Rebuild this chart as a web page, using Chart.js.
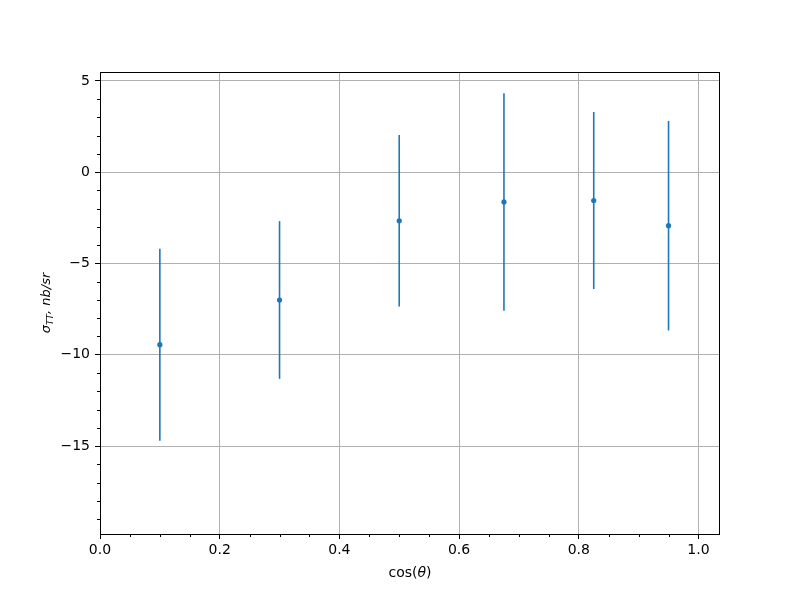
<!DOCTYPE html>
<html><head><meta charset="utf-8">
<script src="https://cdn.jsdelivr.net/npm/chart.js@4"></script>
<style>html,body{margin:0;padding:0;background:#fff}</style>
</head><body>
<canvas id="c" width="800" height="600" style="width:800px;height:600px;display:block"></canvas>
<script>
// ---- data ----
const cosTheta = [0.1, 0.3, 0.5, 0.675, 0.825, 0.95];
const sigma    = [-9.45, -7.0, -2.66, -1.63, -1.55, -2.93];
const sigmaErr = [5.26, 4.32, 4.70, 5.96, 4.85, 5.74];
const xTicks = [0, 0.2, 0.4, 0.6, 0.8, 1.0];
const yTicks = [5, 0, -5, -10, -15];
const xMinor = [0.05,0.1,0.15,0.25,0.3,0.35,0.45,0.5,0.55,0.65,0.7,0.75,0.85,0.9,0.95];
const yMinor = [4,3,2,1,-1,-2,-3,-4,-6,-7,-8,-9,-11,-12,-13,-14,-16,-17,-18,-19];
const xRange = [0, 1.036];
const yRange = [-19.82, 5.49];

const BLUE = '#1f77b4';
const FONT = '"DejaVu Sans", sans-serif';

const extras = {
  id: 'extras',
  beforeDatasetsDraw(chart) {
    const {ctx, scales: {x, y}} = chart;
    ctx.save();
    ctx.strokeStyle = BLUE;
    ctx.lineWidth = 1.6;
    for (let i = 0; i < cosTheta.length; i++) {
      const px = x.getPixelForValue(cosTheta[i]);
      ctx.beginPath();
      ctx.moveTo(px, y.getPixelForValue(sigma[i] + sigmaErr[i]));
      ctx.lineTo(px, y.getPixelForValue(sigma[i] - sigmaErr[i]));
      ctx.stroke();
    }
    ctx.restore();
  },
  afterDraw(chart) {
    const {ctx, chartArea: a, scales: {x, y}} = chart;
    ctx.save();
    // spines
    ctx.strokeStyle = '#000';
    ctx.lineWidth = 1;
    ctx.strokeRect(a.left + 0.5, a.top + 0.5, a.right - a.left - 1, a.bottom - a.top);
    // minor ticks
    ctx.beginPath();
    xMinor.forEach(v => {
      const px = Math.round(x.getPixelForValue(v)) + 0.5;
      ctx.moveTo(px, a.bottom); ctx.lineTo(px, a.bottom + 3);
    });
    yMinor.forEach(v => {
      const py = Math.round(y.getPixelForValue(v)) + 0.5;
      ctx.moveTo(a.left, py); ctx.lineTo(a.left - 3, py);
    });
    ctx.stroke();
    // x title: cos(θ)
    ctx.fillStyle = '#000';
    ctx.textBaseline = 'alphabetic';
    const f1 = '14px ' + FONT, f1i = 'italic 14px ' + FONT;
    const parts = [['cos(', f1], ['θ', f1i], [')', f1]];
    let w = 0;
    parts.forEach(p => { ctx.font = p[1]; w += ctx.measureText(p[0]).width; });
    let cx = (a.left + a.right) / 2 - w / 2;
    parts.forEach(p => { ctx.font = p[1]; ctx.fillText(p[0], cx, 577); cx += ctx.measureText(p[0]).width; });
    // y title: σ_TT, nb/sr
    ctx.translate(50, 303);
    ctx.rotate(-Math.PI / 2);
    const f2i = 'italic 13px ' + FONT;
    const fs = 'italic 9px ' + FONT;
    const yparts = [['σ', f2i, 0], ['TT', fs, 3], [', nb/sr', f2i, 0]];
    w = 0;
    yparts.forEach(p => { ctx.font = p[1]; w += ctx.measureText(p[0]).width; });
    let tx = -w / 2;
    yparts.forEach(p => { ctx.font = p[1]; ctx.fillText(p[0], tx, p[2]); tx += ctx.measureText(p[0]).width; });
    ctx.restore();
  }
};

new Chart(document.getElementById('c'), {
  type: 'scatter',
  data: {
    datasets: [{
      data: cosTheta.map((v, i) => ({x: v, y: sigma[i]})),
      backgroundColor: BLUE,
      borderColor: BLUE,
      pointRadius: 2.6,
      pointBorderWidth: 0,
      pointHoverRadius: 2.6
    }]
  },
  options: {
    responsive: false,
    animation: false,
    devicePixelRatio: 1,
    layout: {padding: {top: 72, right: 80, left: 0, bottom: 0}},
    plugins: {legend: {display: false}, tooltip: {enabled: false}},
    scales: {
      x: {
        type: 'linear', min: xRange[0], max: xRange[1],
        afterBuildTicks: s => { s.ticks = xTicks.map(v => ({value: v})); },
        afterFit: s => { s.height = 66; },
        grid: {color: '#b0b0b0', lineWidth: 1, tickColor: '#000', tickLength: 5, drawTicks: true},
        border: {display: false},
        ticks: {color: '#000', font: {family: FONT, size: 14}, padding: 3, maxRotation: 0,
                callback: v => Number(v).toFixed(1)}
      },
      y: {
        type: 'linear', min: yRange[0], max: yRange[1],
        afterBuildTicks: s => { s.ticks = yTicks.map(v => ({value: v})); },
        afterFit: s => { s.width = 100; },
        grid: {color: '#b0b0b0', lineWidth: 1, tickColor: '#000', tickLength: 5, drawTicks: true},
        border: {display: false},
        ticks: {color: '#000', font: {family: FONT, size: 14}, padding: 5,
                callback: v => v < 0 ? '\u2212' + Math.abs(v) : String(v)}
      }
    }
  },
  plugins: [extras]
});
</script>
</body></html>
